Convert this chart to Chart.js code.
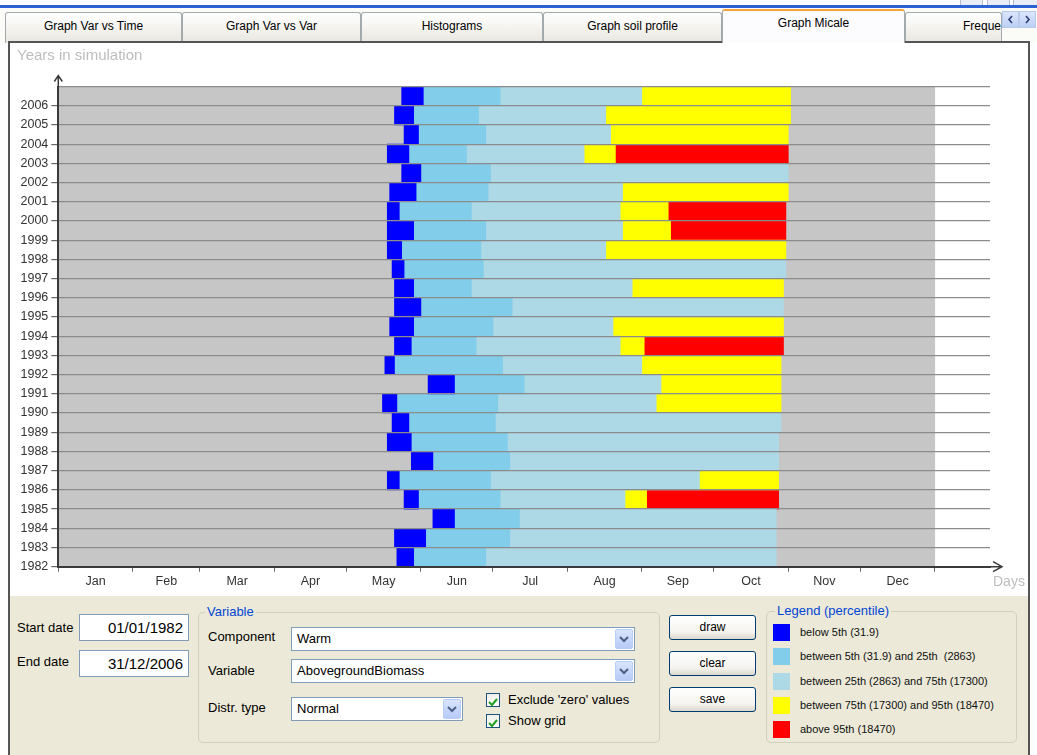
<!DOCTYPE html>
<html>
<head>
<meta charset="utf-8">
<script src="https://cdn.jsdelivr.net/npm/chart.js@4.4.1/dist/chart.umd.min.js"></script>
<style>
  html, body { margin: 0; padding: 0; }
  body { width: 1037px; height: 755px; position: relative; overflow: hidden; background: #fff;
         font-family: "Liberation Sans", Arial, sans-serif; color: #000; }
  .abs { position: absolute; }
  #winbtns div { position: absolute; top: -3px; height: 9px; border: 1px solid #b4bdd0; border-radius: 3px; background: #e9edf5; }
  #topbar { left: 0; top: 5px; width: 1037px; height: 3px; background: #2a62d6; }
  #strip { left: 0; top: 8px; width: 1037px; height: 34px; background: #fbfbf8; }
  .tab { position: absolute; top: 12px; height: 31px; box-sizing: border-box; border: 1px solid #a3aaad; border-bottom: none;
         border-radius: 3px 3px 0 0; background: linear-gradient(#ffffff, #f3f2ed 55%, #e7e6e0); font-size: 12px;
         text-align: center; line-height: 27px; white-space: nowrap; overflow: hidden; }
  .tab.active { top: 9px; height: 34px; background: #fcfcfe; border-top: 2px solid #f2a33a; line-height: 24px; z-index: 2; }
  #scroll div { position: absolute; top: 11px; width: 17px; height: 17px; box-sizing: border-box; border: 1px solid #b9c9ec;
                background: linear-gradient(#dbe6fb, #bcd0f5); z-index: 3; }
  #frame { left: 8px; top: 41px; width: 1022px; height: 730px; box-sizing: border-box; border: 2px solid #555; background: #fff; z-index: 1; }
  #panel { left: 10px; top: 596px; width: 1018px; height: 170px; background: #ece9d8; z-index: 1; }
  #c { position: absolute; left: 10px; top: 44px; z-index: 2; }
  .ui { position: absolute; z-index: 3; }
  .lbl { font-size: 13px; line-height: 16px; white-space: nowrap; }
  .tbox { box-sizing: border-box; border: 1px solid #7f9db9; background: #fff; font-size: 15px; text-align: right;
          padding-right: 5px; line-height: 25px; }
  .combo { box-sizing: border-box; border: 1px solid #7f9db9; background: #fff; font-size: 13px; padding-left: 5px; line-height: 22px; }
  .combo .dd { position: absolute; right: 1px; top: 1px; width: 18px; height: 20px; box-sizing: border-box;
               border: 1px solid #b8ccf5; border-radius: 2px; background: linear-gradient(#d9e4fd, #b7cbf7); }
  .group { box-sizing: border-box; border: 1px solid #d0d0bf; border-radius: 5px; }
  .gtitle { font-size: 13px; color: #0046d5; background: #ece9d8; padding: 0 2px; line-height: 16px; }
  .btn { box-sizing: border-box; border: 1px solid #003c74; border-radius: 3px; width: 87px; height: 25px;
         background: linear-gradient(#ffffff, #f4f3ee 70%, #dcd8cc); font-size: 12px; text-align: center; line-height: 22px; }
  .chk { box-sizing: border-box; width: 14px; height: 14px; border: 1px solid #1c5180; background: linear-gradient(#f0efe8, #fff); }
  .sw { width: 17px; height: 17px; }
  .ltext { font-size: 11px; line-height: 17px; white-space: pre; color: #111; }
</style>
</head>
<body>
<div id="winbtns" class="abs" style="left:0;top:0;width:1037px;height:5px;">
  <div style="left:960px;width:21px;"></div>
  <div style="left:987px;width:21px;"></div>
  <div style="left:1013px;width:23px;"></div>
</div>
<div id="topbar" class="abs"></div>
<div id="strip" class="abs"></div>
<div class="tab" style="left:5px;width:177px;">Graph Var vs Time</div>
<div class="tab" style="left:182px;width:179px;">Graph Var vs Var</div>
<div class="tab" style="left:361px;width:182px;">Histograms</div>
<div class="tab" style="left:543px;width:179px;">Graph soil profile</div>
<div class="tab active" style="left:722px;width:183px;">Graph Micale</div>
<div class="tab" style="left:905px;width:97px;text-align:left;padding-left:57px;">Frequency</div>
<div id="scroll">
  <div style="left:1002px;"><svg width="15" height="15"><polyline points="9,4 6,7.5 9,11" fill="none" stroke="#2a3f78" stroke-width="1.6"/></svg></div>
  <div style="left:1019px;"><svg width="15" height="15"><polyline points="6,4 9,7.5 6,11" fill="none" stroke="#2a3f78" stroke-width="1.6"/></svg></div>
</div>

<div id="frame" class="abs"></div>
<div id="panel" class="abs"></div>
<canvas id="c" width="1019" height="552"></canvas>

<!-- date range -->
<div class="ui lbl" style="left:17px;top:620px;">Start date</div>
<div class="ui tbox" style="left:79px;top:614px;width:110px;height:27px;">01/01/1982</div>
<div class="ui lbl" style="left:17px;top:654px;">End date</div>
<div class="ui tbox" style="left:79px;top:650px;width:110px;height:27px;">31/12/2006</div>

<!-- variable selection -->
<div class="ui group" style="left:198px;top:612px;width:462px;height:131px;"></div>
<div class="ui gtitle" style="left:205px;top:604px;">Variable</div>
<div class="ui lbl" style="left:208px;top:629px;">Component</div>
<div class="ui combo" style="left:291px;top:627px;width:344px;height:24px;">Warm<div class="dd"><svg width="16" height="18"><polyline points="4,7 8,11 12,7" fill="none" stroke="#4d6185" stroke-width="2"/></svg></div></div>
<div class="ui lbl" style="left:208px;top:663px;">Variable</div>
<div class="ui combo" style="left:291px;top:659px;width:344px;height:24px;">AbovegroundBiomass<div class="dd"><svg width="16" height="18"><polyline points="4,7 8,11 12,7" fill="none" stroke="#4d6185" stroke-width="2"/></svg></div></div>
<div class="ui lbl" style="left:208px;top:700px;">Distr. type</div>
<div class="ui combo" style="left:291px;top:697px;width:172px;height:24px;">Normal<div class="dd"><svg width="16" height="18"><polyline points="4,7 8,11 12,7" fill="none" stroke="#4d6185" stroke-width="2"/></svg></div></div>
<div class="ui chk" style="left:486px;top:693px;"><svg width="12" height="12"><polyline points="2,6 5,9 10,3" fill="none" stroke="#21a121" stroke-width="2"/></svg></div>
<div class="ui lbl" style="left:508px;top:692px;">Exclude 'zero' values</div>
<div class="ui chk" style="left:486px;top:714px;"><svg width="12" height="12"><polyline points="2,6 5,9 10,3" fill="none" stroke="#21a121" stroke-width="2"/></svg></div>
<div class="ui lbl" style="left:508px;top:713px;">Show grid</div>

<!-- actions -->
<div class="ui btn" style="left:669px;top:615px;">draw</div>
<div class="ui btn" style="left:669px;top:651px;">clear</div>
<div class="ui btn" style="left:669px;top:687px;">save</div>

<!-- legend -->
<div class="ui group" style="left:766px;top:611px;width:251px;height:132px;"></div>
<div class="ui gtitle" style="left:775px;top:603px;">Legend (percentile)</div>
<div id="legend"></div>

<script>
// Simulation years (bottom to top)
const years = [1982, 1983, 1984, 1985, 1986, 1987, 1988, 1989, 1990, 1991, 1992, 1993,
               1994, 1995, 1996, 1997, 1998, 1999, 2000, 2001, 2002, 2003, 2004, 2005, 2006];

// Day of year at which each percentile class begins (null = class not reached that year)
const blueStart   = [141, 140, 156, 144, 137, 147, 137, 139, 135, 154, 136, 140,
                     138, 140, 140, 139, 137, 137, 137, 138, 143, 137, 144, 140, 143];
const skyStart    = [148, 153, 165, 150, 142, 156, 147, 146, 141, 165, 140, 147,
                     148, 151, 148, 144, 143, 148, 142, 149, 151, 146, 150, 148, 152];
const lightStart  = [178, 188, 192, 184, 180, 188, 187, 182, 183, 194, 185, 174,
                     181, 189, 172, 177, 176, 178, 172, 179, 180, 170, 178, 175, 184];
const yellowStart = [null, null, null, 236, 267, null, null, null, 249, 251, 243, 234,
                     231, null, 239, null, 228, 235, 234, 235, null, 219, 230, 228, 243];
const redStart    = [null, null, null, 245, null, null, null, null, null, null, null, 244,
                     null, null, null, null, null, 255, 254, null, null, 232, null, null, null];
// Last day of the growing season
const seasonEnd   = [299, 299, 299, 300, 300, 300, 300, 301, 301, 301, 301, 302,
                     302, 302, 302, 303, 303, 303, 303, 304, 304, 304, 304, 305, 305];

// Month axis
const monthNames  = ['Jan', 'Feb', 'Mar', 'Apr', 'May', 'Jun', 'Jul', 'Aug', 'Sep', 'Oct', 'Nov', 'Dec'];
const monthStarts = [0, 31, 59, 90, 120, 151, 181, 212, 243, 273, 304, 334, 365];

// Percentile classes
const seriesLabels = ['below 5th (31.9)',
                      'between 5th (31.9) and 25th  (2863)',
                      'between 25th (2863) and 75th (17300)',
                      'between 75th (17300) and 95th (18470)',
                      'above 95th (18470)'];
const seriesColors = ['#0000ff', '#82cdea', '#add8e6', '#ffff00', '#ff0000'];
const offSeasonColor = '#c6c6c6';

const DAYS_IN_YEAR = monthStarts[monthStarts.length - 1];
const X_MAX = 388;
const monthMids = monthNames.map((m, i) => (monthStarts[i] + monthStarts[i + 1]) / 2);
const yearTicks = years.concat([years[years.length - 1] + 1]);

// Segment end = start of the next class that is present, otherwise end of season
function segEnd(i, k) {
  const nexts = [skyStart, lightStart, yellowStart, redStart].slice(k);
  for (const arr of nexts) if (arr[i] !== null) return arr[i];
  return seasonEnd[i];
}
const starts = [blueStart, skyStart, lightStart, yellowStart, redStart];

const datasets = starts.map((arr, k) => ({
  label: seriesLabels[k],
  backgroundColor: seriesColors[k],
  data: years.map((y, i) => arr[i] === null ? null : { x: [arr[i], segEnd(i, k)], y: y + 0.5 })
               .filter(d => d !== null)
}));
// Whole calendar year behind the season (drawn first)
datasets.push({
  label: 'outside season',
  backgroundColor: offSeasonColor,
  data: years.map(y => ({ x: [0, DAYS_IN_YEAR], y: y + 0.5 }))
});
datasets.forEach(d => Object.assign(d, {
  xAxisID: 'x', yAxisID: 'y', borderWidth: 0, grouped: false,
  barPercentage: 1, categoryPercentage: 1
}));

// Legend entries
const legendEl = document.getElementById('legend');
seriesLabels.forEach((txt, k) => {
  const top = 624 + k * 24.3;
  const sw = document.createElement('div');
  sw.className = 'ui sw';
  sw.style.cssText = `left:773px;top:${top}px;background:${seriesColors[k]};`;
  const tx = document.createElement('div');
  tx.className = 'ui ltext';
  tx.style.cssText = `left:800px;top:${top}px;`;
  tx.textContent = txt;
  legendEl.appendChild(sw);
  legendEl.appendChild(tx);
});

// Axis arrows and axis titles
const axisDecor = {
  id: 'axisDecor',
  afterDraw(chart) {
    const { ctx, chartArea: { left, right, top, bottom } } = chart;
    ctx.save();
    ctx.strokeStyle = '#3a3a3a';
    ctx.lineWidth = 1.5;
    ctx.beginPath();
    ctx.moveTo(left, top); ctx.lineTo(left, top - 11);
    ctx.moveTo(left - 4, top - 5); ctx.lineTo(left, top - 11); ctx.lineTo(left + 4, top - 5);
    ctx.moveTo(right, bottom); ctx.lineTo(right + 12, bottom);
    ctx.moveTo(right + 3, bottom - 5); ctx.lineTo(right + 12, bottom); ctx.lineTo(right + 3, bottom + 5);
    ctx.stroke();
    ctx.fillStyle = '#bdbdbd';
    ctx.textBaseline = 'middle';
    ctx.font = '15px "Liberation Sans", Arial, sans-serif';
    ctx.fillText('Years in simulation', 7, 12);
    ctx.font = '14px "Liberation Sans", Arial, sans-serif';
    ctx.fillText('Days', 983, 538);
    ctx.restore();
  }
};

const labelFont = { family: '"Liberation Sans", Arial, sans-serif', size: 12.5 };

new Chart(document.getElementById('c'), {
  type: 'bar',
  data: { datasets },
  plugins: [axisDecor],
  options: {
    indexAxis: 'y',
    responsive: false,
    animation: false,
    events: [],
    layout: { padding: { left: 0, right: 39, top: 42.5, bottom: 0 } },
    plugins: { legend: { display: false }, tooltip: { enabled: false } },
    scales: {
      y: {
        type: 'linear', min: years[0], max: years[years.length - 1] + 1,
        offset: false,
        afterBuildTicks: s => { s.ticks = yearTicks.map(v => ({ value: v })); },
        afterFit: s => { s.width = 48.3; },
        ticks: { autoSkip: false, padding: 3, color: '#333', font: labelFont,
                 callback: v => (v > years[years.length - 1] ? '' : String(v)) },
        grid: { offset: false, z: 1, color: '#8c8c8c', lineWidth: 1.2, tickLength: 7,
                tickColor: c => (c.tick && c.tick.value > years[years.length - 1] ? 'rgba(0,0,0,0)' : '#666') },
        border: { color: '#3a3a3a', width: 2, z: 2 }
      },
      x: {
        type: 'linear', position: 'bottom', min: 0, max: X_MAX, weight: 0,
        afterBuildTicks: s => { s.ticks = monthStarts.map(v => ({ value: v })); },
        afterFit: s => { s.height = 5; },
        ticks: { display: false },
        grid: { drawOnChartArea: false, z: 1, tickLength: 5, tickColor: '#666' },
        border: { color: '#3a3a3a', width: 2, z: 2 }
      },
      x2: {
        type: 'linear', position: 'bottom', min: 0, max: X_MAX, weight: 1,
        afterBuildTicks: s => { s.ticks = monthMids.map(v => ({ value: v })); },
        afterFit: s => { s.height = 24.3; },
        ticks: { autoSkip: false, maxRotation: 0, padding: 2, color: '#333', font: labelFont,
                 callback: (v, i) => monthNames[i] },
        grid: { display: false, drawTicks: false },
        border: { display: false }
      }
    }
  }
});
</script>
</body>
</html>
